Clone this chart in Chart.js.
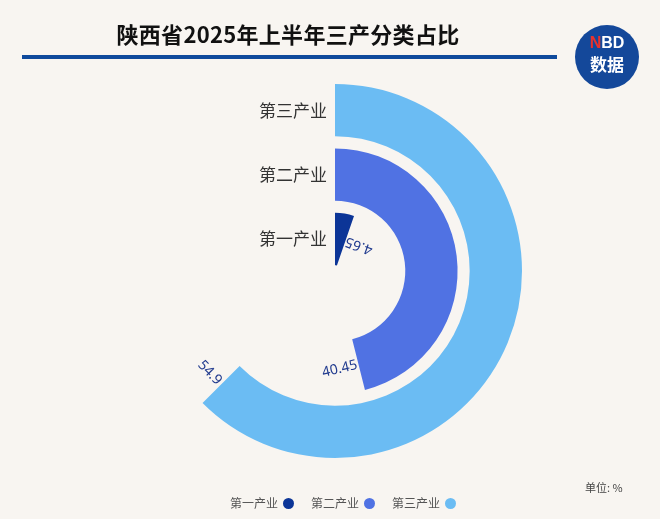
<!DOCTYPE html>
<html>
<head>
<meta charset="utf-8">
<script src="https://cdn.jsdelivr.net/npm/chart.js@4.4.1/dist/chart.umd.min.js"></script>
<style>
  html, body { margin:0; padding:0; background:#f8f5f1; }
  #wrap { position:relative; width:660px; height:519px; overflow:hidden; background:#f8f5f1;
    font-family:"Noto Sans CJK SC","Noto Sans",sans-serif; }
  #title { position:absolute; left:0; width:576px; top:17px; text-align:center; font-size:22px;
    font-weight:700; color:#111; line-height:32px; letter-spacing:0.3px; }
  #rule { position:absolute; left:22px; width:535px; top:55px; height:4px; background:#0f4a9c; }
  #logo { position:absolute; left:575px; top:25px; width:64px; height:64px; border-radius:50%;
    background:#14489a; color:#fff; text-align:center; font-weight:700; }
  #logo .a { position:absolute; top:9px; width:100%; font-size:16px; line-height:18px; font-family:"Liberation Sans",sans-serif; }
  #logo .a span { color:#e8322c; }
  #logo .b { position:absolute; top:28px; width:100%; font-size:17px; line-height:22px; }
  .cat { position:absolute; right:333px; font-size:17px; color:#333; line-height:22px; }
  #unit { position:absolute; left:585px; top:479px; font-size:11px; color:#444; }
  #legend { position:absolute; left:230px; top:494px; font-size:12px; color:#555; line-height:18px; white-space:nowrap; }
  #legend .it { display:inline-block; margin-right:17px; }
  #legend .dot { display:inline-block; width:11px; height:11px; border-radius:50%; margin-left:5px; vertical-align:-1px; }
  canvas { position:absolute; left:0; top:0; }
</style>
</head>
<body>
<div id="wrap">
  <canvas id="mycanvas" width="660" height="519"></canvas>
  <div id="title">陕西省2025年上半年三产分类占比</div>
  <div id="rule"></div>
  <div id="logo"><div class="a"><span>N</span>BD</div><div class="b">数据</div></div>
  <div class="cat" style="top:99px">第三产业</div>
  <div class="cat" style="top:163px">第二产业</div>
  <div class="cat" style="top:227px">第一产业</div>
  <div id="unit">单位: %</div>
  <div id="legend"></div>
</div>
<script>
// data (outer ring first)
var categories = ["第三产业", "第二产业", "第一产业"];
var values = [54.9, 40.45, 4.65];
var colors = ["#6bbcf3", "#5072e3", "#0c3597"];
var legendOrder = ["第一产业", "第二产业", "第三产业"];
var scaleMax = 87.8;

// rings + transparent spacer rings between them
var datasets = [];
for (var i = 0; i < values.length; i++) {
  if (i > 0) {
    datasets.push({ data: [1], backgroundColor: ["rgba(0,0,0,0)"], borderWidth: 0, weight: 12, spacer: true });
  }
  datasets.push({
    label: categories[i],
    data: [values[i], scaleMax - values[i]],
    backgroundColor: [colors[i], "rgba(0,0,0,0)"],
    borderWidth: 0,
    weight: 52
  });
}

// value label just past the end of each ring, along the ring
var endLabels = {
  id: 'endLabels',
  afterDatasetsDraw: function(chart) {
    var ctx = chart.ctx;
    chart.data.datasets.forEach(function(ds, di) {
      if (ds.spacer) return;
      var arc = chart.getDatasetMeta(di).data[0];
      var r = (arc.innerRadius + arc.outerRadius) / 2;
      var a = arc.endAngle + 0.015;
      ctx.save();
      ctx.translate(arc.x + r * Math.cos(a), arc.y + r * Math.sin(a));
      ctx.rotate(a - Math.PI / 2);
      ctx.font = '14px "Noto Sans", sans-serif';
      ctx.fillStyle = '#203a8e';
      ctx.textAlign = 'right';
      ctx.textBaseline = 'middle';
      ctx.fillText(String(ds.data[0]), 0, 0);
      ctx.restore();
    });
  }
};

var ctx = document.getElementById("mycanvas");
var chart = new Chart(ctx, {
  type: 'doughnut',
  data: { labels: ["值", ""], datasets: datasets },
  options: {
    responsive: false,
    animation: false,
    radius: 187,
    cutout: 6,
    layout: { padding: { left: 10, right: 0, top: 80, bottom: 57 } },
    plugins: { legend: { display: false }, tooltip: { enabled: false } }
  },
  plugins: [endLabels]
});

// legend
var lg = document.getElementById("legend");
legendOrder.forEach(function(name) {
  var c = colors[categories.indexOf(name)];
  var it = document.createElement("span");
  it.className = "it";
  it.innerHTML = name + '<span class="dot" style="background:' + c + '"></span>';
  lg.appendChild(it);
});
</script>
</body>
</html>
